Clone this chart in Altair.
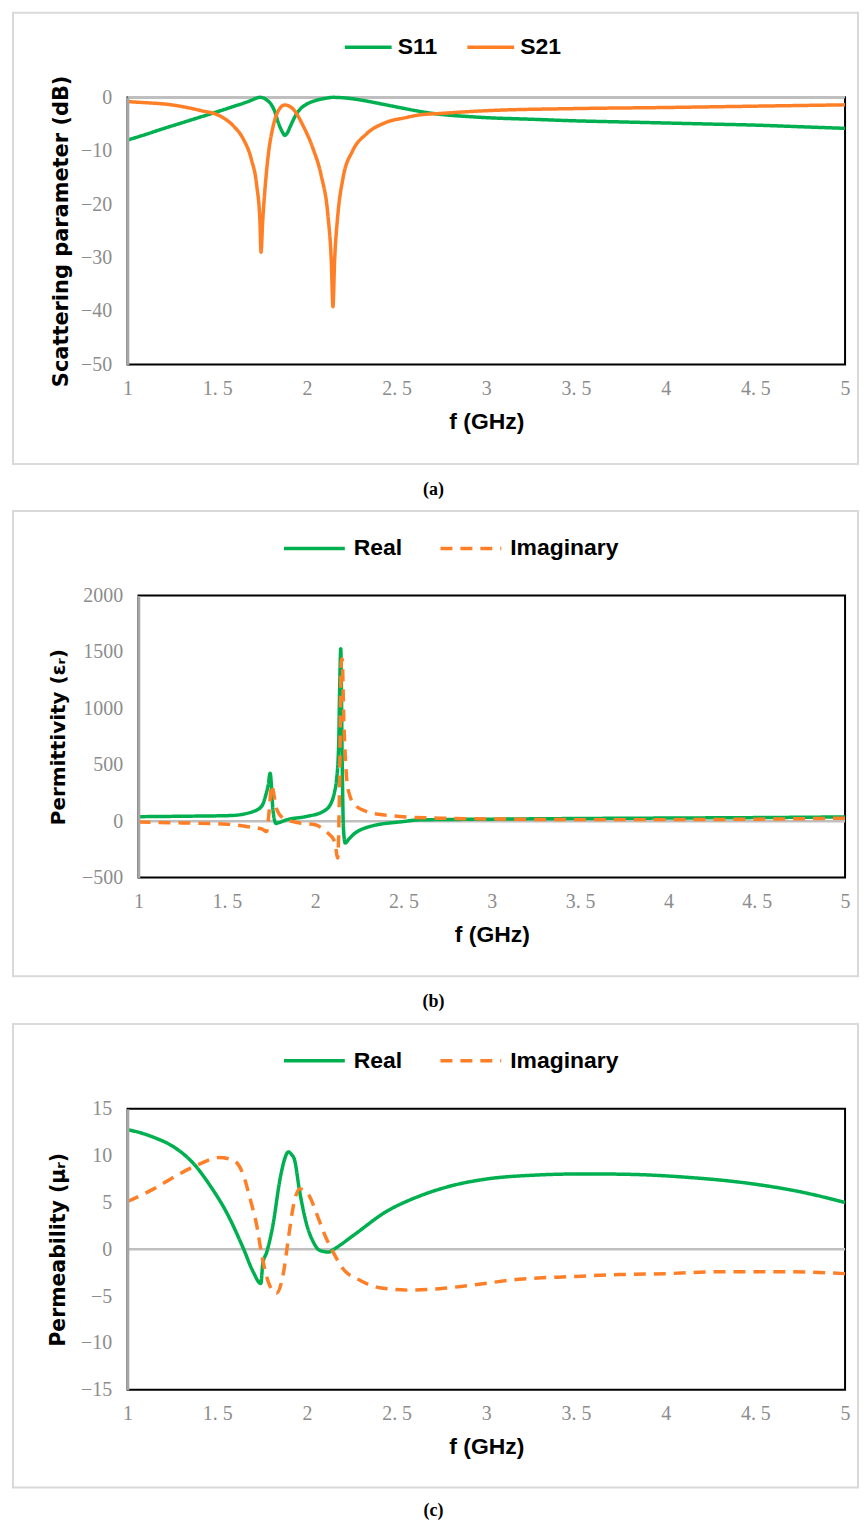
import altair as alt
import pandas as pd

GREEN = "#00B050"
ORANGE = "#FF7F27"
LABEL_GRAY = "#8C8C8C"
AXIS_GRAY = "#A6A6A6"
ZERO_GRAY = "#BFBFBF"
BOX_GRAY = "#D9D9D9"

X_TICKS = [1, 1.5, 2, 2.5, 3, 3.5, 4, 4.5, 5]

# ---------- (a) scattering parameters ----------
S11_f = [1.0, 1.1, 1.2, 1.3, 1.4, 1.5, 1.6, 1.65, 1.7, 1.72, 1.738, 1.76, 1.78, 1.80, 1.82,
         1.84, 1.86, 1.877, 1.89, 1.905, 1.92, 1.94, 1.965, 1.997, 2.03, 2.07, 2.1, 2.145, 2.19, 2.24,
         2.3, 2.365, 2.44, 2.515, 2.625, 2.75, 2.9, 3.0, 3.25, 3.5, 3.75, 4.0, 4.25, 4.5, 4.75, 5.0]
S11_v = [-8.0, -6.95, -5.85, -4.8, -3.75, -2.7, -1.6, -1.05, -0.4, -0.12, 0.0, -0.15, -0.6, -1.3, -2.6,
         -4.7, -6.3, -7.1, -6.7, -5.6, -4.5, -3.2, -2.1, -1.3, -0.8, -0.4, -0.2, 0.0, -0.05, -0.2,
         -0.5, -0.9, -1.4, -1.9, -2.6, -3.2, -3.6, -3.8, -4.1, -4.4, -4.6, -4.8, -5.0, -5.2, -5.5, -5.8]
S21_f = [1.0, 1.1, 1.22, 1.3, 1.405, 1.516, 1.59, 1.645, 1.69, 1.72, 1.738, 1.744, 1.753, 1.766, 1.784,
         1.812, 1.84, 1.877, 1.923, 1.979, 2.035, 2.08, 2.117, 2.136, 2.145, 2.154, 2.172, 2.2, 2.255,
         2.33, 2.44, 2.55, 2.625, 2.75, 3.0, 3.5, 4.0, 4.5, 5.0]
S21_v = [-0.8, -1.0, -1.3, -1.7, -2.45, -3.5, -5.35, -7.8, -11.6, -16.5, -23.3, -29.0, -23.3, -17.2, -10.9,
         -5.35, -2.55, -1.43, -2.2, -5.35, -9.7, -14.7, -22.1, -30.8, -39.2, -30.8, -22.1, -15.3, -10.0,
         -6.9, -4.7, -3.8, -3.3, -3.0, -2.5, -2.1, -1.9, -1.65, -1.4]

# ---------- (b) permittivity ----------
EpsRe_f = [1.0, 1.25, 1.52, 1.65, 1.70, 1.72, 1.735, 1.745, 1.762, 1.778, 1.79, 1.838, 1.95, 2.045, 2.09,
           2.11, 2.12, 2.133, 2.138, 2.145, 2.153, 2.16, 2.17, 2.19, 2.215, 2.31, 2.5, 2.59, 3.0, 3.5,
           4.0, 4.5, 5.0]
EpsRe_v = [40, 44, 50, 86, 140, 230, 330, 425, 86, -20, -15, 12, 42, 86, 160,
           262, 350, 675, 1116, 1529, 527, -61, -194, -160, -120, -47, -3, 12, 18, 24,
           28, 32, 38]
EpsIm_f = [1.0, 1.25, 1.5, 1.61, 1.70, 1.725, 1.74, 1.753, 1.765, 1.78, 1.82, 1.914, 2.0, 2.06, 2.11,
           2.128, 2.138, 2.148, 2.153, 2.162, 2.172, 2.18, 2.195, 2.215, 2.29, 2.38, 2.476, 2.75, 3.0,
           3.5, 4.0, 4.5, 5.0]
EpsIm_v = [-8, -15, -26, -47, -70, -91, 100, 322, 250, 116, 27, -17, -32, -91, -179,
           -326, 300, 1410, 1440, 900, 527, 350, 233, 160, 86, 57, 42, 25, 20,
           14, 14, 18, 27]

# ---------- (c) permeability ----------
MuRe_f = [1.0, 1.07, 1.146, 1.26, 1.37, 1.46, 1.55, 1.646, 1.70, 1.743, 1.754, 1.776, 1.81, 1.85, 1.875,
          1.896, 1.915, 1.93, 1.96, 2.0, 2.035, 2.07, 2.12, 2.155, 2.26, 2.44, 2.63, 2.81, 3.0, 3.25,
          3.55, 3.8, 4.11, 4.48, 4.76, 5.0]
MuRe_v = [12.77, 12.45, 11.95, 10.9, 9.1, 6.8, 4.0, 0.07, -2.4, -3.65, -1.5, -0.3, 2.55, 7.5, 9.6,
          10.4, 10.1, 9.6, 6.1, 2.55, 0.8, -0.1, -0.3, 0.07, 1.5, 4.0, 5.7, 6.8, 7.5, 7.9,
          8.05, 8.0, 7.7, 7.0, 6.1, 5.0]
MuIm_f = [1.0, 1.146, 1.29, 1.4, 1.51, 1.59, 1.646, 1.683, 1.72, 1.748, 1.785, 1.83, 1.87, 1.896, 1.925,
          1.96, 2.007, 2.05, 2.1, 2.146, 2.2, 2.295, 2.405, 2.57, 2.74, 2.89, 3.18, 3.5, 3.74, 4.0,
          4.29, 4.67, 5.0]
MuIm_v = [5.1, 6.45, 8.05, 9.1, 9.8, 9.5, 7.9, 5.4, 2.55, -0.6, -3.5, -4.7, -2.4, 1.1, 4.7,
          6.45, 5.9, 4.0, 1.5, -0.3, -2.05, -3.3, -4.1, -4.36, -4.2, -3.9, -3.2, -2.9, -2.7, -2.6,
          -2.4, -2.4, -2.6]


def series_df(parts):
    rows = []
    for name, fs, vs in parts:
        for f, v in zip(fs, vs):
            rows.append({"series": name, "f": f, "v": v})
    return pd.DataFrame(rows)


W = 720
RIGHT = 733


def panel(df, names, dashes, ytitle, ytitle_size, ydomain, yticks, height, caption, x0,
          legend_x, legend_y, sym_len, label_offset, col_pad, ytitle_x,
          box_bottom, bounds_bottom, caption_y):
    xscale = alt.Scale(domain=[1, 5], range=[x0, W], nice=False, zero=False)
    yscale = alt.Scale(domain=ydomain, nice=False, zero=False)
    xaxis = alt.Axis(values=X_TICKS, format=".1~f", labelExpr="replace(datum.label, '.', '. ')",
                     ticks=False, tickSize=0, domain=False, grid=False, labelFlush=False,
                     labelFont="Liberation Serif", labelFontSize=20, labelColor=LABEL_GRAY,
                     labelPadding=14, title="f (GHz)", titleFont="Liberation Sans",
                     titleFontSize=23, titleFontWeight="bold", titleColor="black",
                     titleX=(x0 + W) / 2, titleY=57, titleBaseline="middle", titleAlign="center")
    yaxis = alt.Axis(values=yticks, format="d", ticks=False, tickSize=0, grid=False, domain=True,
                     domainColor=AXIS_GRAY, domainWidth=2.5, zindex=1, offset=-x0,
                     labelFont="Liberation Serif", labelFontSize=20, labelColor=LABEL_GRAY,
                     labelPadding=16, title=ytitle, titleFont="DejaVu Sans", titleFontSize=ytitle_size,
                     titleFontWeight="bold", titleColor="black", titleX=ytitle_x,
                     titleBaseline="middle")
    legend = alt.Legend(orient="none", legendX=legend_x, legendY=legend_y, direction="horizontal",
                        title=None, symbolType="stroke", symbolSize=sym_len ** 2,
                        symbolStrokeWidth=3.5, labelFont="Liberation Sans", labelFontSize=23,
                        labelFontWeight="bold", labelColor="black", labelOffset=label_offset,
                        columnPadding=col_pad, padding=0, symbolOffset=0)

    one = pd.DataFrame({"c": [caption]})
    bounds = alt.Chart(one).mark_rect(opacity=0).encode(
        x=alt.value(-119), x2=alt.value(RIGHT), y=alt.value(-85), y2=alt.value(bounds_bottom))
    box = alt.Chart(one).mark_rect(fillOpacity=0, stroke=BOX_GRAY, strokeWidth=2).encode(
        x=alt.value(-115), x2=alt.value(RIGHT), y=alt.value(-85), y2=alt.value(box_bottom))
    border = alt.Chart(one).mark_rect(fillOpacity=0, stroke="black", strokeWidth=2).encode(
        x=alt.value(x0), x2=alt.value(W), y=alt.value(0), y2=alt.value(height))
    zero = alt.Chart(pd.DataFrame({"v": [0]})).mark_rule(color=ZERO_GRAY, strokeWidth=2.5).encode(
        y=alt.Y("v:Q", scale=yscale, axis=yaxis), x=alt.value(x0), x2=alt.value(W))
    lines = alt.Chart(df).mark_line(strokeWidth=3.5, interpolate="monotone").encode(
        x=alt.X("f:Q", scale=xscale, axis=xaxis),
        y=alt.Y("v:Q", scale=yscale, axis=yaxis),
        color=alt.Color("series:N", scale=alt.Scale(domain=names, range=[GREEN, ORANGE]),
                        legend=legend, sort=names),
        strokeDash=alt.StrokeDash("series:N", scale=alt.Scale(domain=names, range=dashes),
                                  legend=legend, sort=names),
    )
    cap = alt.Chart(one).mark_text(font="Liberation Serif", fontSize=18, fontWeight="bold",
                                   color="black", baseline="middle").encode(
        text="c:N", x=alt.value(307), y=alt.value(caption_y))
    return alt.layer(bounds, box, border, zero, lines, cap).properties(width=W, height=height)


DASH = [12, 8]
pa = panel(series_df([("S11", S11_f, S11_v), ("S21", S21_f, S21_v)]), ["S11", "S21"],
           [[1, 0], [1, 0]], "Scattering parameter (dB)", 21, [-50, 0], [-50, -40, -30, -20, -10, 0],
           268, "(a)", 0, 216, -76, 47, 4, 23, -66, 368, 412, 394)
pb = panel(series_df([("Real", EpsRe_f, EpsRe_v), ("Imaginary", EpsIm_f, EpsIm_v)]), ["Real", "Imaginary"],
           [[1, 0], DASH], "Permittivity (\u03b5\u1d63)", 20, [-500, 2000], [-500, 0, 500, 1000, 1500, 2000],
           283, "(b)", 11, 155, -80, 61, 7, 31, -80, 382, 427, 408)
pc = panel(series_df([("Real", MuRe_f, MuRe_v), ("Imaginary", MuIm_f, MuIm_v)]), ["Real", "Imaginary"],
           [[1, 0], DASH], "Permeability (\u03bc\u1d63)", 20.5, [-15, 15], [-15, -10, -5, 0, 5, 10, 15],
           282, "(c)", 0, 155, -81, 61, 7, 31, -69, 380, 410, 404)

chart = alt.vconcat(pa, pb, pc, spacing=0).resolve_scale(
    x="independent", y="independent", color="independent", strokeDash="independent"
).resolve_legend(color="independent", strokeDash="independent").properties(
    padding={"left": 0, "top": 0, "right": 0, "bottom": 0}
).configure_view(stroke="transparent")

chart.save("out.html", embed_options={"renderer": "svg", "actions": False})
